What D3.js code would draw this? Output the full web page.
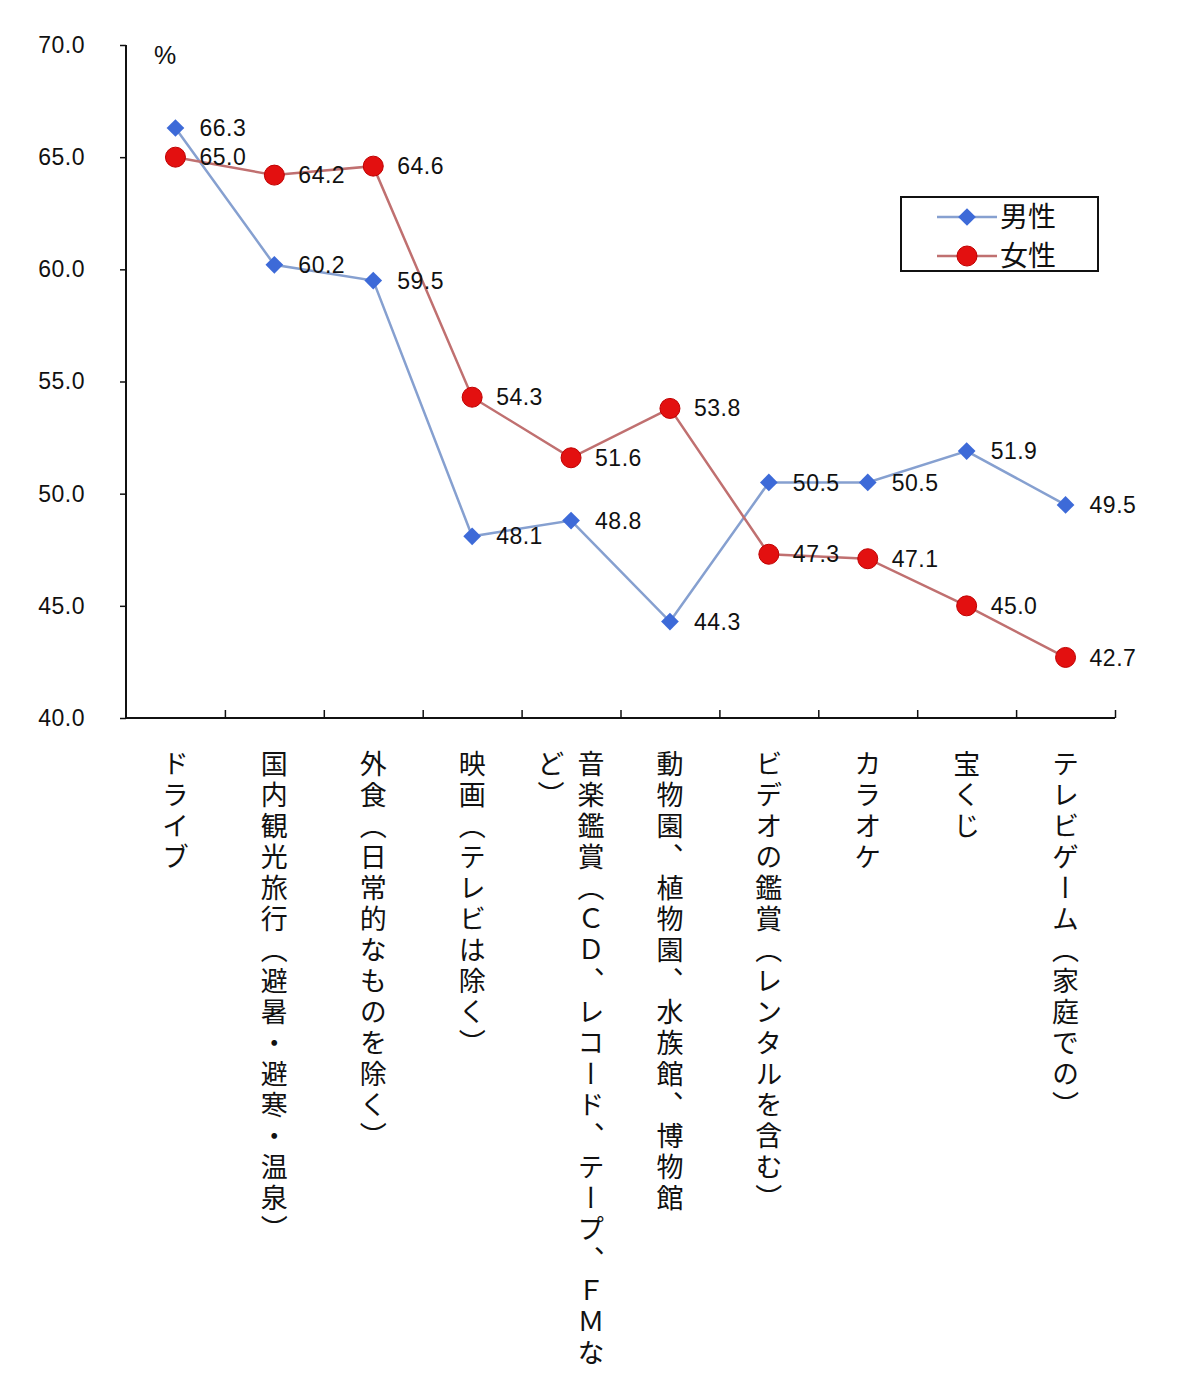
<!DOCTYPE html>
<html>
<head>
<meta charset="utf-8">
<script src="https://cdn.jsdelivr.net/npm/d3@7"></script>
<style>
  body { margin: 0; background: #fff; }
  svg { display: block; }
  .num { font-family: "Liberation Sans", Arial, sans-serif; font-size: 23px; fill: #111; letter-spacing: 0.5px; }
  .cat { font-family: "Noto Sans CJK JP", sans-serif; font-size: 27px; fill: #111; writing-mode: vertical-rl; letter-spacing: 4px; }
</style>
</head>
<body>
<svg id="chart"></svg>
<script>
const categories = [
  "ドライブ",
  "国内観光旅行（避暑・避寒・温泉）",
  "外食（日常的なものを除く）",
  "映画（テレビは除く）",
  "音楽鑑賞（ＣＤ、レコード、テープ、ＦＭなど）",
  "動物園、植物園、水族館、博物館",
  "ビデオの鑑賞（レンタルを含む）",
  "カラオケ",
  "宝くじ",
  "テレビゲーム（家庭での）"
];
const male = [66.3, 60.2, 59.5, 48.1, 48.8, 44.3, 50.5, 50.5, 51.9, 49.5];
const female = [65.0, 64.2, 64.6, 54.3, 51.6, 53.8, 47.3, 47.1, 45.0, 42.7];
const yTicks = [40, 45, 50, 55, 60, 65, 70];
const seriesNames = ["男性", "女性"];

const width = 1200;
const height = 1380;
const margin = { left: 126, right: 85, top: 45, bottom: 662 };

const svg = d3.select("#chart")
    .attr("width", width)
    .attr("height", height);

const xScale = d3.scaleBand()
    .domain(d3.range(categories.length))
    .range([margin.left, width - margin.right])
    .padding(0);

const xEdge = d3.scaleLinear()
    .domain([0, categories.length])
    .range([margin.left, width - margin.right]);

const yScale = d3.scaleLinear()
    .domain([40, 70])
    .range([height - margin.bottom, margin.top]);

const cx = i => xScale(i) + xScale.bandwidth() / 2;

// axes
const yAxis = d3.axisLeft(yScale)
    .tickValues(yTicks)
    .tickSize(6)
    .tickPadding(35)
    .tickFormat(d3.format(".1f"));

const gy = svg.append("g")
    .attr("transform", `translate(${margin.left},0)`)
    .call(yAxis);
gy.select(".domain").attr("stroke", "#111").attr("stroke-width", 2).attr("d", `M0,${margin.top}V${height - margin.bottom}`);
gy.selectAll(".tick line").attr("stroke", "#111").attr("stroke-width", 1.5);
gy.selectAll(".tick text").attr("class", "num");

const xAxis = d3.axisBottom(xEdge)
    .tickValues(d3.range(1, categories.length + 1))
    .tickSize(-8)
    .tickFormat("");

const gx = svg.append("g")
    .attr("transform", `translate(0,${height - margin.bottom})`)
    .call(xAxis);
gx.select(".domain").attr("stroke", "#111").attr("stroke-width", 2).attr("d", `M${margin.left},0H${width - margin.right}`);
gx.selectAll(".tick line").attr("stroke", "#111").attr("stroke-width", 1.5);

svg.append("text")
    .attr("class", "num")
    .attr("x", 154)
    .attr("y", 64)
    .style("font-size", "25px")
    .text("%");

// category labels (vertical)
const maxChars = 20;
const colGap = 40;
categories.forEach((label, i) => {
    const chars = Array.from(label);
    const cols = [];
    for (let k = 0; k < chars.length; k += maxChars) cols.push(chars.slice(k, k + maxChars).join(""));
    cols.forEach((col, j) => {
        svg.append("text")
            .attr("class", "cat")
            .attr("x", cx(i) + (cols.length - 1) / 2 * colGap - j * colGap)
            .attr("y", 750)
            .text(col);
    });
});

// lines
const line = d3.line()
    .x((d, i) => cx(i))
    .y(d => yScale(d));

svg.append("path")
    .datum(male)
    .attr("fill", "none")
    .attr("stroke", "#86a0d0")
    .attr("stroke-width", 2.5)
    .attr("d", line);

svg.append("path")
    .datum(female)
    .attr("fill", "none")
    .attr("stroke", "#c07070")
    .attr("stroke-width", 2.5)
    .attr("d", line);

// markers
const diamond = d3.symbol().type(d3.symbolDiamond2).size(200);

svg.selectAll(".male-pt")
    .data(male)
    .enter()
    .append("path")
    .attr("class", "male-pt")
    .attr("d", diamond)
    .attr("transform", (d, i) => `translate(${cx(i)},${yScale(d)})`)
    .attr("fill", "#3d6ad8");

svg.selectAll(".female-pt")
    .data(female)
    .enter()
    .append("circle")
    .attr("class", "female-pt")
    .attr("cx", (d, i) => cx(i))
    .attr("cy", d => yScale(d))
    .attr("r", 10)
    .attr("fill", "#e31010")
    .attr("stroke", "#c00000")
    .attr("stroke-width", 1);

// data labels
[male, female].forEach(series => {
    svg.selectAll(null)
        .data(series)
        .enter()
        .append("text")
        .attr("class", "num")
        .attr("x", (d, i) => cx(i) + 24)
        .attr("y", d => yScale(d) + 2)
        .attr("dominant-baseline", "middle")
        .text(d => d3.format(".1f")(d));
});

// legend
const legend = svg.append("g").attr("transform", "translate(901,197)");
legend.append("rect")
    .attr("width", 197)
    .attr("height", 74)
    .attr("fill", "#fff")
    .attr("stroke", "#111")
    .attr("stroke-width", 2);

seriesNames.forEach((name, k) => {
    const y = 20 + k * 39;
    legend.append("line")
        .attr("x1", 36).attr("x2", 96)
        .attr("y1", y).attr("y2", y)
        .attr("stroke", k === 0 ? "#86a0d0" : "#c07070")
        .attr("stroke-width", 2.5);
    if (k === 0) {
        legend.append("path")
            .attr("d", diamond)
            .attr("transform", `translate(66,${y})`)
            .attr("fill", "#3d6ad8");
    } else {
        legend.append("circle")
            .attr("cx", 66).attr("cy", y).attr("r", 10)
            .attr("fill", "#e31010")
            .attr("stroke", "#c00000");
    }
    legend.append("text")
        .attr("x", 99)
        .attr("y", y + 2)
        .attr("dominant-baseline", "middle")
        .style("font-family", "'Noto Sans CJK JP', sans-serif")
        .style("font-size", "28px")
        .attr("fill", "#111")
        .text(name);
});
</script>
</body>
</html>
